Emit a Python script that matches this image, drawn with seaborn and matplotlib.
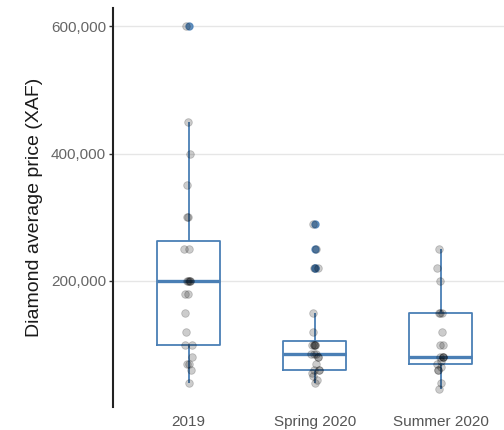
import numpy as np
import pandas as pd
import seaborn as sns
import matplotlib.pyplot as plt
from matplotlib.ticker import FuncFormatter

# Values (XAF)
periods = ["2019", "Spring 2020", "Summer 2020"]
prices_2019 = [40000, 60000, 70000, 70000, 80000, 100000, 100000, 120000,
               150000, 180000, 180000, 200000, 200000, 200000, 200000, 200000,
               250000, 250000, 300000, 300000, 350000, 400000, 450000, 600000]
prices_spring = [40000, 45000, 50000, 55000, 60000, 60000, 60000, 70000,
                 80000, 80000, 85000, 85000, 85000, 100000, 100000, 100000,
                 100000, 100000, 120000, 150000, 220000, 220000, 250000, 290000]
prices_summer = [30000, 40000, 60000, 60000, 65000, 70000, 75000, 80000,
                 80000, 80000, 80000, 100000, 100000, 120000, 150000, 150000,
                 150000, 200000, 220000, 250000]
y_ticks = [200000, 400000, 600000]

data = pd.DataFrame({
    'period': [periods[0]] * len(prices_2019)
              + [periods[1]] * len(prices_spring)
              + [periods[2]] * len(prices_summer),
    'price': prices_2019 + prices_spring + prices_summer,
})

sns.set_style('white')
plt.rcParams['font.family'] = ['Liberation Sans', 'DejaVu Sans']

blue = '#4a7fb5'
fig = plt.figure(figsize=(5.04, 4.30), dpi=100)
ax = fig.add_axes([113 / 504, 23 / 430, 391 / 504, 399 / 430])

sns.boxplot(
    data=data, x='period', y='price', order=periods,
    width=0.5, fill=False, color=blue, whis=1.5,
    linewidth=1.3,
    medianprops=dict(color=blue, linewidth=2.4),
    capprops=dict(linewidth=0),
    flierprops=dict(marker='o', markerfacecolor=blue, markeredgecolor=blue,
                    markersize=5, alpha=0.85),
    ax=ax,
)

# small horizontal jitter, fixed seed so the picture is stable
np.random.seed(3)
sns.stripplot(
    data=data, x='period', y='price', order=periods,
    color='black', alpha=0.2, size=5.5, jitter=0.035,
    linewidth=0.6, edgecolor='black', ax=ax,
)

ax.set_xlim(-0.6, 2.5)
ax.set_ylim(2000, 628500)
ax.set_yticks(y_ticks)
ax.yaxis.set_major_formatter(FuncFormatter(lambda v, p: f"{int(v):,}"))
ax.grid(axis='y', color='#e6e6e6', linewidth=1)
ax.grid(axis='x', visible=False)
ax.set_axisbelow(True)

for side in ['top', 'right', 'bottom']:
    ax.spines[side].set_visible(False)
ax.spines['left'].set_color('#222222')
ax.spines['left'].set_linewidth(1.5)

ax.tick_params(axis='y', left=True, length=3, width=1, color='#333333',
               labelsize=11, labelcolor='#666666', pad=2)
ax.tick_params(axis='x', bottom=False, length=0, labelsize=11,
               labelcolor='#555555', pad=5.5)

ax.set_xlabel('')
ax.set_ylabel('Diamond average price (XAF)', fontsize=14, color='#1a1a1a',
              labelpad=6)

fig.savefig('out.png', dpi=100)
